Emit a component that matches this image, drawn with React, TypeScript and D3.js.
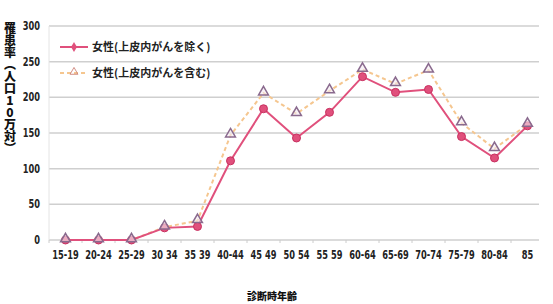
import React from "react";
import * as d3 from "d3";

const categories = ["15-19","20-24","25-29","30-34","35-39","40-44","45-49","50-54","55-59","60-64","65-69","70-74","75-79","80-84","85"];
const catLabels = ["15-19","20-24","25-29","30 34","35 39","40-44","45 49","50 54","55 59","60-64","65-69","70-74","75-79","80-84","85"];
const excl = [0,0,0,17,19,111,184,143,179,229,207,211,145,115,160];
const incl = [0,0,0,18,27,147,206,177,209,239,219,238,164,128,162];
const yTicks = [0,50,100,150,200,250,300];
const legendLabels = ["女性(上皮内がんを除く)","女性(上皮内がんを含む)"];
const yTitle = "罹患率（人口10万対）";
const xTitle = "診断時年齢";

const W = 553, H = 304;
const m = { left: 49, right: 9, top: 26, bottom: 64 };

export default function App() {
  const x = d3.scaleBand().domain(categories).range([m.left, W - m.right]);
  const y = d3.scaleLinear().domain([0, 300]).range([H - m.bottom, m.top]);
  const cx = (c: string) => (x(c) as number) + x.bandwidth() / 2;
  const line = d3.line<number>().x((_, i) => cx(categories[i])).y(d => y(d));
  const pink = "#e0507c";
  const orange = "#f5c68f";
  const triStroke = "#8a6a8e";
  const tri = d3.symbol().type(d3.symbolTriangle).size(42)() as string;
  const tickFont = "'DejaVu Sans Condensed','Liberation Sans',sans-serif";
  const jp = "'Noto Sans CJK JP',sans-serif";
  return (
    <svg width={W} height={H} style={{ position: "absolute", left: 0, top: 0, background: "#fff" }}>
      {yTicks.map(t => (
        <g key={t}>
          <line x1={m.left} x2={W - m.right - 5} y1={y(t)} y2={y(t)} stroke="#cfcfcf" strokeWidth={1.5} />
          <text transform={`translate(40,${y(t) + 4}) scale(0.8,1)`} textAnchor="end" fontFamily={tickFont} fontWeight="bold" fontSize={11.5} fill="#222">{t}</text>
        </g>
      ))}
      <line x1={m.left} x2={m.left} y1={m.top} y2={y(0)} stroke="#e4e4e4" />
      {categories.map((c, i) => (
        <g key={c}>
          <line x1={(x(c) as number)} x2={(x(c) as number)} y1={y(0)} y2={y(0) + 3} stroke="#ccc" />
          <text transform={`translate(${cx(c)},${y(0) + 19}) scale(0.8,1)`} textAnchor="middle" fontFamily={tickFont} fontWeight="bold" fontSize={11.5} fill="#222">{catLabels[i]}</text>
        </g>
      ))}
      <path d={line(incl) as string} fill="none" stroke={orange} strokeWidth={2} strokeDasharray="4,3" />
      <path d={line(excl) as string} fill="none" stroke={pink} strokeWidth={2} />
      {excl.map((v, i) => (
        <circle key={"c" + i} cx={cx(categories[i])} cy={y(v)} r={4} fill={pink} stroke="#c83060" strokeWidth={1} />
      ))}
      {incl.map((v, i) => (
        <path key={"t" + i} d={tri} transform={`translate(${cx(categories[i])},${y(v) - 1})`} fill="#f4eaf0" fillOpacity={0.6} stroke={triStroke} strokeWidth={1.5} />
      ))}
      {/* legend */}
      <line x1={60} x2={88} y1={47} y2={47} stroke={pink} strokeWidth={2} />
      <path d={d3.symbol().type(d3.symbolDiamond).size(30)() as string} transform="translate(74,47)" fill={pink} />
      <text x={92} y={51} fontFamily={jp} fontWeight="bold" fontSize={11} fill="#222">{legendLabels[0]}</text>
      <line x1={60} x2={88} y1={73} y2={73} stroke={orange} strokeWidth={2} strokeDasharray="4,3" />
      <path d={tri} transform="translate(74,72) scale(0.8)" fill="none" stroke="#d08a80" strokeWidth={1.2} />
      <text x={92} y={77} fontFamily={jp} fontWeight="bold" fontSize={11} fill="#222">{legendLabels[1]}</text>
      {/* titles */}
      <text x={10} y={22} fontFamily={jp} fontWeight="900" fontSize={12} fill="#111" style={{ writingMode: "vertical-rl", textOrientation: "upright" } as any}>{yTitle}</text>
      <text x={272} y={300} textAnchor="middle" fontFamily={jp} fontWeight="900" fontSize={10} fill="#111">{xTitle}</text>
    </svg>
  );
}
